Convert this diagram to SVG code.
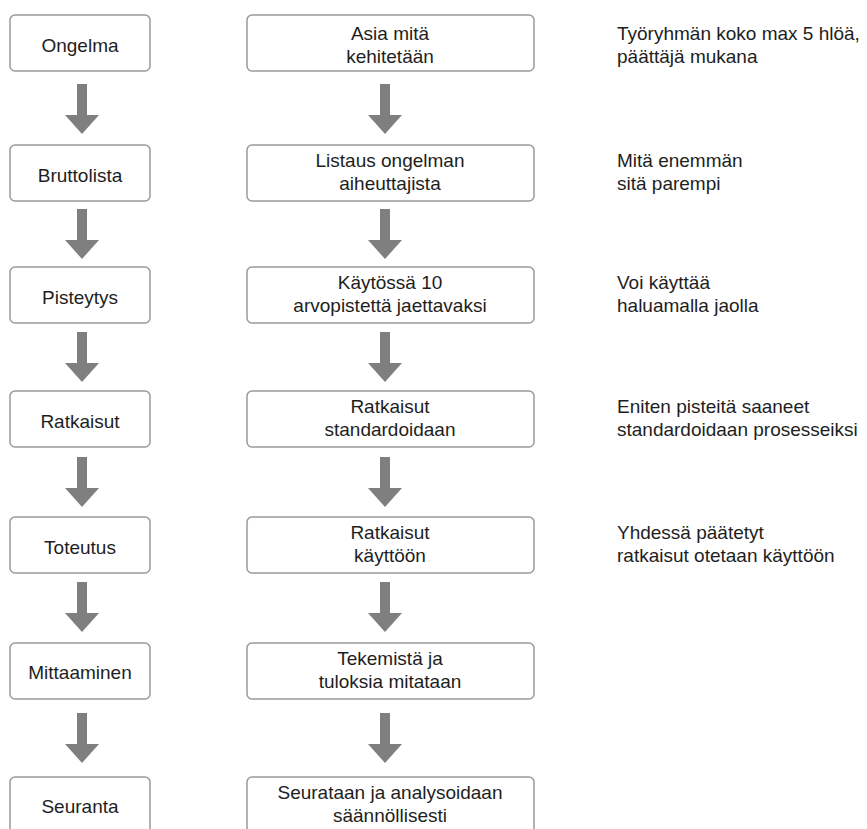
<svg xmlns="http://www.w3.org/2000/svg" xmlns:xlink="http://www.w3.org/1999/xlink" width="867" height="829" viewBox="0 0 867 829">
  <style>
    .box { fill: #ffffff; stroke: #9a9a9a; stroke-width: 1.5; }
    .t { font-family: "Liberation Sans", Arial, sans-serif; font-size: 19px; fill: #1e1e1e; }
    .c { text-anchor: middle; }
    .arrow { fill: #7f7f7f; }
  </style>
  <defs>
    <path id="arr" class="arrow" d="M -5 0 L 5 0 L 5 31 L 17 31 L 0 50 L -17 31 L -5 31 Z"/>
  </defs>
  <rect width="867" height="829" fill="#ffffff"/>

  <g id="connectors">
    <use xlink:href="#arr" x="82" y="84"/>
    <use xlink:href="#arr" x="82" y="209"/>
    <use xlink:href="#arr" x="82" y="332"/>
    <use xlink:href="#arr" x="82" y="457"/>
    <use xlink:href="#arr" x="82" y="582"/>
    <use xlink:href="#arr" x="82" y="713"/>
    <use xlink:href="#arr" x="385" y="84"/>
    <use xlink:href="#arr" x="385" y="209"/>
    <use xlink:href="#arr" x="385" y="332"/>
    <use xlink:href="#arr" x="385" y="457"/>
    <use xlink:href="#arr" x="385" y="582"/>
    <use xlink:href="#arr" x="385" y="713"/>
  </g>

  <g id="ongelma">
    <rect class="box" x="10" y="15" width="140" height="56" rx="5"/>
    <text class="t c" x="80" y="52">Ongelma</text>
  </g>
  <g id="bruttolista">
    <rect class="box" x="10" y="145" width="140" height="56" rx="5"/>
    <text class="t c" x="80" y="182">Bruttolista</text>
  </g>
  <g id="pisteytys">
    <rect class="box" x="10" y="267" width="140" height="56" rx="5"/>
    <text class="t c" x="80" y="304">Pisteytys</text>
  </g>
  <g id="ratkaisut">
    <rect class="box" x="10" y="391" width="140" height="56" rx="5"/>
    <text class="t c" x="80" y="428">Ratkaisut</text>
  </g>
  <g id="toteutus">
    <rect class="box" x="10" y="517" width="140" height="56" rx="5"/>
    <text class="t c" x="80" y="554">Toteutus</text>
  </g>
  <g id="mittaaminen">
    <rect class="box" x="10" y="643" width="140" height="56" rx="5"/>
    <text class="t c" x="80" y="679">Mittaaminen</text>
  </g>
  <g id="seuranta">
    <rect class="box" x="10" y="777" width="140" height="56" rx="5"/>
    <text class="t c" x="80" y="813">Seuranta</text>
  </g>

  <g id="asia">
    <rect class="box" x="247" y="15" width="287" height="56" rx="5"/>
    <text class="t c" x="390" y="40">Asia mitä</text>
    <text class="t c" x="390" y="63">kehitetään</text>
  </g>
  <g id="listaus">
    <rect class="box" x="247" y="145" width="287" height="56" rx="5"/>
    <text class="t c" x="390" y="167">Listaus ongelman</text>
    <text class="t c" x="390" y="190">aiheuttajista</text>
  </g>
  <g id="kaytossa">
    <rect class="box" x="247" y="267" width="287" height="56" rx="5"/>
    <text class="t c" x="390" y="289">Käytössä 10</text>
    <text class="t c" x="390" y="312">arvopistettä jaettavaksi</text>
  </g>
  <g id="standardoidaan">
    <rect class="box" x="247" y="391" width="287" height="56" rx="5"/>
    <text class="t c" x="390" y="413">Ratkaisut</text>
    <text class="t c" x="390" y="436">standardoidaan</text>
  </g>
  <g id="kayttoon">
    <rect class="box" x="247" y="517" width="287" height="56" rx="5"/>
    <text class="t c" x="390" y="539">Ratkaisut</text>
    <text class="t c" x="390" y="562">käyttöön</text>
  </g>
  <g id="mitataan">
    <rect class="box" x="247" y="643" width="287" height="56" rx="5"/>
    <text class="t c" x="390" y="665">Tekemistä ja</text>
    <text class="t c" x="390" y="688">tuloksia mitataan</text>
  </g>
  <g id="analysoidaan">
    <rect class="box" x="247" y="777" width="287" height="56" rx="5"/>
    <text class="t c" x="390" y="799">Seurataan ja analysoidaan</text>
    <text class="t c" x="390" y="822">säännöllisesti</text>
  </g>

  <g id="notes">
    <text class="t" x="617" y="40">Työryhmän koko max 5 hlöä,</text>
    <text class="t" x="617" y="63">päättäjä mukana</text>
    <text class="t" x="617" y="167">Mitä enemmän</text>
    <text class="t" x="617" y="190">sitä parempi</text>
    <text class="t" x="617" y="289">Voi käyttää</text>
    <text class="t" x="617" y="312">haluamalla jaolla</text>
    <text class="t" x="617" y="413">Eniten pisteitä saaneet</text>
    <text class="t" x="617" y="436">standardoidaan prosesseiksi</text>
    <text class="t" x="617" y="539">Yhdessä päätetyt</text>
    <text class="t" x="617" y="562">ratkaisut otetaan käyttöön</text>
  </g>
</svg>
